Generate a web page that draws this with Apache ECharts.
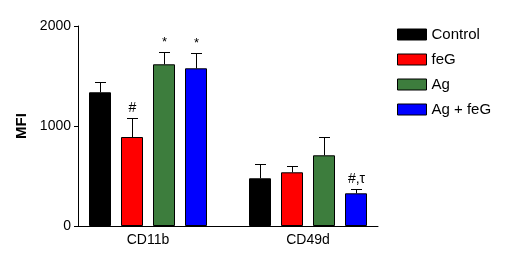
<!DOCTYPE html>
<html>
<head>
    <meta charset="utf-8" />
    <script src="https://cdn.jsdelivr.net/npm/echarts@6/dist/echarts.min.js"></script>
    <style>
        body { margin: 0; background: #fff; }
    </style>
</head>
<body>
<div id="main" style="width: 512px;height:255px;"></div>

<script>
    // data
    var categories = ['CD11b', 'CD49d'];
    var groups = ['Control', 'feG', 'Ag', 'Ag + feG'];
    var colors = ['#000000', '#ff0000', '#3d7d3d', '#0000ff'];
    var means = [
        [1337, 477],
        [890, 537],
        [1617, 707],
        [1577, 327]
    ];
    var errTops = [
        [1437, 617],
        [1077, 597],
        [1743, 887],
        [1727, 373]
    ];
    var marks = [
        ['', ''],
        ['#', ''],
        ['*', ''],
        ['*', '#,τ']
    ];
    var yTicks = [0, 1000, 2000];

    var barW = 22;
    var step = 32;
    var font = 'Liberation Sans, Arial, sans-serif';

    var chartDom = document.getElementById('main');
    var myChart = echarts.init(chartDom);
    var option;

    var series = [];
    groups.forEach(function(name, gi) {
        series.push({
            name: name,
            type: 'bar',
            xAxisIndex: 1,
            yAxisIndex: 1,
            barWidth: barW,
            barGap: ((step - barW) / barW * 100) + '%',
            itemStyle: { color: colors[gi], borderColor: '#000', borderWidth: 1 },
            emphasis: { disabled: true },
            data: means[gi],
            z: 2
        });
    });
    // error bars + significance marks
    groups.forEach(function(name, gi) {
        var off = (gi - 1.5) * step;
        series.push({
            type: 'custom',
            xAxisIndex: 1,
            yAxisIndex: 1,
            silent: true,
            z: 3,
            data: categories.map(function(c, ci) {
                return [ci, means[gi][ci], errTops[gi][ci]];
            }),
            renderItem: function(params, api) {
                var ci = api.value(0);
                var base = api.coord([ci, api.value(1)]);
                var top = api.coord([ci, api.value(2)]);
                var x = Math.round(base[0] + off) + 0.5;
                var yt = Math.round(top[1]) + 0.5;
                var children = [
                    { type: 'line', shape: { x1: x, y1: base[1], x2: x, y2: yt }, style: { stroke: '#000', lineWidth: 1 } },
                    { type: 'line', shape: { x1: x - 5.5, y1: yt, x2: x + 5.5, y2: yt }, style: { stroke: '#000', lineWidth: 1 } }
                ];
                var m = marks[gi][ci];
                if (m) {
                    children.push({
                        type: 'text',
                        x: x,
                        y: top[1] - 3,
                        style: {
                            text: m,
                            fill: '#000',
                            font: (m === '*' ? '13px ' : '14px ') + font,
                            align: 'center',
                            verticalAlign: 'bottom'
                        }
                    });
                }
                return { type: 'group', children: children };
            }
        });
    });

    option = {
        animation: false,
        backgroundColor: '#fff',
        textStyle: { fontFamily: font },
        legend: {
            data: groups,
            left: 397,
            top: 27,
            padding: 0,
            orient: 'vertical',
            itemWidth: 29,
            itemHeight: 11,
            itemGap: 10,
            itemStyle: { borderColor: '#000', borderWidth: 1 },
            textStyle: { fontSize: 15, color: '#000', fontFamily: font },
            icon: 'rect',
            selectedMode: false
        },
        grid: [
            { left: 78, width: 300, top: 26, height: 200 },
            { left: 68, width: 320, top: 26, height: 200 }
        ],
        xAxis: [{
            gridIndex: 0,
            type: 'category',
            data: categories,
            axisLine: { lineStyle: { color: '#000', width: 1 } },
            axisTick: { show: false },
            axisLabel: { show: false }
        }, {
            gridIndex: 1,
            type: 'category',
            data: categories,
            axisLine: { show: false },
            axisTick: { show: false },
            axisLabel: { color: '#000', fontSize: 14, margin: 7, fontFamily: font }
        }],
        yAxis: [{
            gridIndex: 0,
            type: 'value',
            min: 0,
            max: 2000,
            interval: 1000,
            name: 'MFI',
            nameLocation: 'middle',
            nameGap: 47,
            nameRotate: 90,
            nameTextStyle: { fontSize: 15, fontWeight: 'bold', color: '#000', fontFamily: font },
            axisLine: { show: true, lineStyle: { color: '#000', width: 1 } },
            axisTick: { show: true, length: 4, lineStyle: { color: '#000' } },
            axisLabel: {
                color: '#000', fontSize: 14, margin: 7, fontFamily: font,
                formatter: function(v) { return yTicks.indexOf(v) >= 0 ? String(v) : ''; }
            },
            splitLine: { show: false }
        }, {
            gridIndex: 1,
            type: 'value',
            min: 0,
            max: 2000,
            show: false,
            splitLine: { show: false }
        }],
        series: series
    };

    option && myChart.setOption(option);
</script>
</body>
</html>
